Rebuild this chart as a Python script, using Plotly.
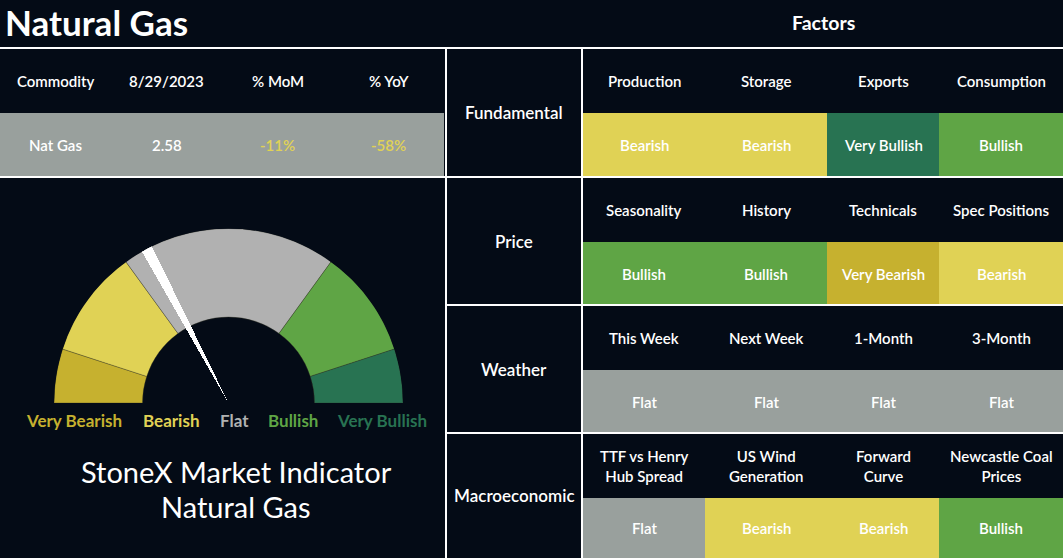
import plotly.graph_objects as go

# ---- data ----
title_text = "Natural Gas"
commodity_headers = ["Commodity", "8/29/2023", "% MoM", "% YoY"]
commodity_values = ["Nat Gas", "2.58", "-11%", "-58%"]

categories = ["Fundamental", "Price", "Weather", "Macroeconomic"]
fundamental_factors = ["Production", "Storage", "Exports", "Consumption"]
fundamental_signals = ["Bearish", "Bearish", "Very Bullish", "Bullish"]
price_factors = ["Seasonality", "History", "Technicals", "Spec Positions"]
price_signals = ["Bullish", "Bullish", "Very Bearish", "Bearish"]
weather_factors = ["This Week", "Next Week", "1-Month", "3-Month"]
weather_signals = ["Flat", "Flat", "Flat", "Flat"]
macro_factors = ["TTF vs Henry<br>Hub Spread", "US Wind<br>Generation", "Forward<br>Curve", "Newcastle Coal<br>Prices"]
macro_signals = ["Flat", "Bearish", "Bearish", "Bullish"]

gauge_levels = ["Very Bearish", "Bearish", "Flat", "Bullish", "Very Bullish"]
gauge_weights = [1, 2, 4, 2, 1]
needle_value = 3.45   # position on the 0..10 gauge scale

factor_rows = [fundamental_factors, price_factors, weather_factors, macro_factors]
signal_rows = [fundamental_signals, price_signals, weather_signals, macro_signals]

# ---- style / layout ----
W, H = 1063, 558
BG = "#040b16"
FONT = "Lato"
level_colors = {
    "Very Bearish": "#c6b12f",
    "Bearish": "#e0d255",
    "Flat": "#99a09d",
    "Bullish": "#5fa545",
    "Very Bullish": "#287352",
}
gauge_flat = "#b1b1b1"

top_line = 48
left_cols = [0, 111, 222, 333, 444]
left_rows = [48, 113, 176]
div_x = [446, 582]
right_cols = [583, 705, 827, 939, 1063]
row_tops = [48, 177, 305, 433, H]
sub_split = 65

fig = go.Figure()

# cells drawn as horizontal bars (base = left edge, length = width)
cb, cx, cy, cw, cc = [], [], [], [], []
# left table data row
cb.append(left_cols[0]); cx.append(left_cols[-1] - left_cols[0])
cy.append((left_rows[1] + left_rows[2]) / 2); cw.append(left_rows[2] - left_rows[1])
cc.append(level_colors["Flat"])
for r, sigs in enumerate(signal_rows):
    y0 = row_tops[r] + sub_split
    y1 = row_tops[r + 1] - 1 if r < 3 else H
    for c, s in enumerate(sigs):
        cb.append(right_cols[c]); cx.append(right_cols[c + 1] - right_cols[c])
        cy.append((y0 + y1) / 2); cw.append(y1 - y0)
        cc.append(level_colors[s])
fig.add_trace(go.Bar(orientation="h", base=cb, x=cx, y=cy, width=cw,
                     marker=dict(color=cc, line=dict(width=0)),
                     hoverinfo="skip", showlegend=False))

shapes = []
def hline(y, x0, x1):
    shapes.append(dict(type="line", xref="x", yref="y", x0=x0, x1=x1, y0=y, y1=y,
                       line=dict(color="white", width=2)))
def vline(x, y0, y1):
    shapes.append(dict(type="line", xref="x", yref="y", x0=x, x1=x, y0=y0, y1=y1,
                       line=dict(color="white", width=2)))

hline(top_line, 0, W)
hline(row_tops[1], 0, W)
for yv in row_tops[2:4]:
    hline(yv, div_x[0], W)
for xv in div_x:
    vline(xv, top_line, H)

ann = []
def txt(x, y, s, size=15, color="white", weight=600, family=FONT, xanchor="center"):
    ann.append(dict(x=x, y=y, xref="x", yref="y", text=s, showarrow=False,
                    xanchor=xanchor, yanchor="middle",
                    font=dict(family=family, size=size, color=color, weight=weight)))

txt(3, 22, title_text, size=35, weight=700, xanchor="left")
txt((right_cols[0] + W) / 2, 22, "Factors", size=19.5, weight=700)

for i, h in enumerate(commodity_headers):
    xc = (left_cols[i] + left_cols[i + 1]) / 2
    txt(xc, (left_rows[0] + left_rows[1]) / 2, h)
    v = commodity_values[i]
    col = level_colors["Bearish"] if v.startswith("-") else "white"
    txt(xc, (left_rows[1] + left_rows[2]) / 2, v, color=col)

for r, cat in enumerate(categories):
    top, bot = row_tops[r], row_tops[r + 1]
    txt((div_x[0] + div_x[1]) / 2, (top + bot) / 2, cat, size=17)
    for c in range(4):
        xc = (right_cols[c] + right_cols[c + 1]) / 2
        txt(xc, (top + top + sub_split) / 2, factor_rows[r][c])
        txt(xc, (top + sub_split + bot) / 2, signal_rows[r][c])

# gauge
total = sum(gauge_weights)
deg = 180 / total
thetas, widths, cols = [], [], []
acc = 0
for lvl, w in zip(gauge_levels, gauge_weights):
    thetas.append(180 - deg * (acc + w / 2))
    widths.append(deg * w)
    cols.append(gauge_flat if lvl == "Flat" else level_colors[lvl])
    acc += w
hole = 0.493
fig.add_trace(go.Barpolar(theta=thetas, width=widths, r=[1 - hole] * len(thetas),
                          base=[hole] * len(thetas),
                          marker=dict(color=cols, line=dict(width=0.6, color="rgba(60,60,40,0.6)")),
                          hoverinfo="skip", showlegend=False))
fig.add_trace(go.Barpolar(theta=[180 - deg * needle_value], width=[3.7], r=[1], base=[0],
                          marker=dict(color="white", line=dict(width=0)),
                          hoverinfo="skip", showlegend=False))

label_x = [74, 171, 234, 293, 382]
for lvl, xv in zip(gauge_levels, label_x):
    txt(xv, 420, lvl, size=17, weight=700,
        color=gauge_flat if lvl == "Flat" else level_colors[lvl])

txt(236, 471, "StoneX Market Indicator", size=29, weight=400, color="white")
txt(236, 506, "Natural Gas", size=29, weight=400, color="white")

cx0, cy0, rad = 228.5, 403, 174.5
fig.update_layout(
    width=W, height=H, margin=dict(l=0, r=0, t=0, b=0),
    paper_bgcolor=BG, plot_bgcolor=BG,
    xaxis=dict(range=[0, W], visible=False, fixedrange=True, domain=[0, 1]),
    yaxis=dict(range=[H, 0], visible=False, fixedrange=True, domain=[0, 1]),
    polar=dict(
        domain=dict(x=[(cx0 - rad) / W, (cx0 + rad) / W],
                    y=[(H - cy0) / H, (H - cy0 + rad) / H]),
        sector=[0, 180], bgcolor="rgba(0,0,0,0)",
        radialaxis=dict(range=[0, 1], visible=False, showgrid=False),
        angularaxis=dict(visible=False, showgrid=False),
    ),
    shapes=shapes, annotations=ann, bargap=0,
)
fig.write_html("out.html", config={"displayModeBar": False},
               post_script="document.body.style.margin='0';document.body.style.background='%s';" % BG)
